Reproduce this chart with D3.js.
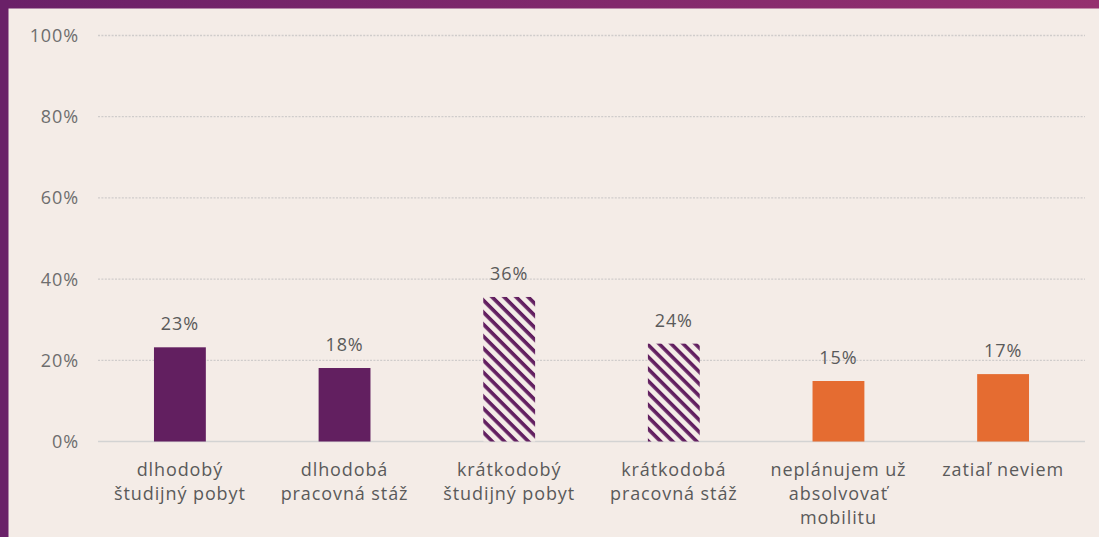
<!DOCTYPE html>
<html>
<head>
<meta charset="utf-8">
<script src="https://cdn.jsdelivr.net/npm/d3@7"></script>
<style>
  body { margin: 0; background: #f4ece7; }
  svg { display: block; }
</style>
</head>
<body>
<svg id="chart" width="1099" height="537"></svg>
<script>
const categories = [
    ["dlhodobý", "študijný pobyt"],
    ["dlhodobá", "pracovná stáž"],
    ["krátkodobý", "študijný pobyt"],
    ["krátkodobá", "pracovná stáž"],
    ["neplánujem už", "absolvovať", "mobilitu"],
    ["zatiaľ neviem"]
];
const values = [0.232, 0.181, 0.356, 0.241, 0.149, 0.166];
const labels = ["23%", "18%", "36%", "24%", "15%", "17%"];
const kinds = ["solid", "solid", "hatch", "hatch", "orange", "orange"];
const yTicks = [0, 0.2, 0.4, 0.6, 0.8, 1];

const svg = d3.select("#chart");
const width = 1099, height = 537;
const margin = { T: 35.5, B: 95.5, L: 98, R: 14 };
const purple = "#621f60";
const orange = "#e56c31";

// ---- FRAME ---- //
const defs = svg.append("defs");
const grad = defs.append("linearGradient").attr("id", "topgrad");
grad.append("stop").attr("offset", "0%").attr("stop-color", "#6a2068");
grad.append("stop").attr("offset", "100%").attr("stop-color", "#95306f");

const hatch = defs.append("pattern")
    .attr("id", "hatch")
    .attr("patternUnits", "userSpaceOnUse")
    .attr("width", 8.5)
    .attr("height", 8.5)
    .attr("patternTransform", "rotate(-45)");
hatch.append("rect").attr("width", 8.5).attr("height", 8.5).attr("fill", "#f4ece7");
hatch.append("line")
    .attr("x1", 2).attr("y1", 0).attr("x2", 2).attr("y2", 8.5)
    .attr("stroke", purple).attr("stroke-width", 3.6);

svg.append("rect").attr("width", width).attr("height", height).attr("fill", "#f4ece7");
svg.append("rect").attr("width", width).attr("height", 8.5).attr("fill", "url(#topgrad)");
svg.append("rect").attr("width", 8.5).attr("height", height).attr("fill", "#6a2068");

// ---- SCALES ---- //
const x = d3.scaleBand()
    .domain(d3.range(categories.length))
    .range([margin.L, width - margin.R])
    .paddingInner(0.685)
    .paddingOuter(0.34);
const y = d3.scaleLinear()
    .domain([0, 1])
    .range([height - margin.B, margin.T]);

const font = "'Open Sans', sans-serif";
const fontSize = 18;
const spacing = 0.9;

// ---- GRID ---- //
svg.append("g")
    .selectAll("line")
    .data(yTicks.filter(d => d > 0))
    .enter()
    .append("line")
        .attr("x1", margin.L)
        .attr("x2", width - margin.R)
        .attr("y1", d => y(d))
        .attr("y2", d => y(d))
        .attr("stroke", "#cfcccb")
        .attr("stroke-width", 1.3)
        .attr("stroke-dasharray", "2,1.4");

svg.append("line")
    .attr("x1", margin.L)
    .attr("x2", width - margin.R)
    .attr("y1", y(0))
    .attr("y2", y(0))
    .attr("stroke", "#d3d3d3")
    .attr("stroke-width", 1.5);

svg.append("g")
    .selectAll("text")
    .data(yTicks)
    .enter()
    .append("text")
        .attr("x", 79)
        .attr("y", d => y(d) + 6.5)
        .attr("text-anchor", "end")
        .attr("font-family", font)
        .attr("font-size", fontSize)
        .attr("letter-spacing", spacing)
        .attr("fill", "#6e6e6e")
        .text(d3.format(".0%"));

// ---- BARS ---- //
const fillFor = k => k === "solid" ? purple : k === "hatch" ? "url(#hatch)" : orange;

svg.append("g")
    .selectAll("rect")
    .data(values)
    .enter()
    .append("rect")
        .attr("x", (d, i) => x(i))
        .attr("y", d => y(d))
        .attr("width", x.bandwidth())
        .attr("height", d => y(0) - y(d))
        .attr("fill", (d, i) => fillFor(kinds[i]));

svg.append("g")
    .selectAll("text")
    .data(values)
    .enter()
    .append("text")
        .attr("x", (d, i) => x(i) + x.bandwidth() / 2)
        .attr("y", d => y(d) - 17)
        .attr("text-anchor", "middle")
        .attr("font-family", font)
        .attr("font-size", fontSize)
        .attr("letter-spacing", spacing)
        .attr("fill", "#5a5a5a")
        .text((d, i) => labels[i]);

// ---- CATEGORY LABELS ---- //
const cats = svg.append("g")
    .selectAll("text")
    .data(categories)
    .enter()
    .append("text")
        .attr("x", (d, i) => x(i) + x.bandwidth() / 2)
        .attr("y", 476)
        .attr("text-anchor", "middle")
        .attr("font-family", font)
        .attr("font-size", fontSize)
        .attr("letter-spacing", spacing)
        .attr("fill", "#5a5a5a");

cats.selectAll("tspan")
    .data(d => d)
    .enter()
    .append("tspan")
        .attr("x", function() { return d3.select(this.parentNode).attr("x"); })
        .attr("dy", (d, i) => i === 0 ? 0 : 24)
        .text(d => d);
</script>
</body>
</html>
